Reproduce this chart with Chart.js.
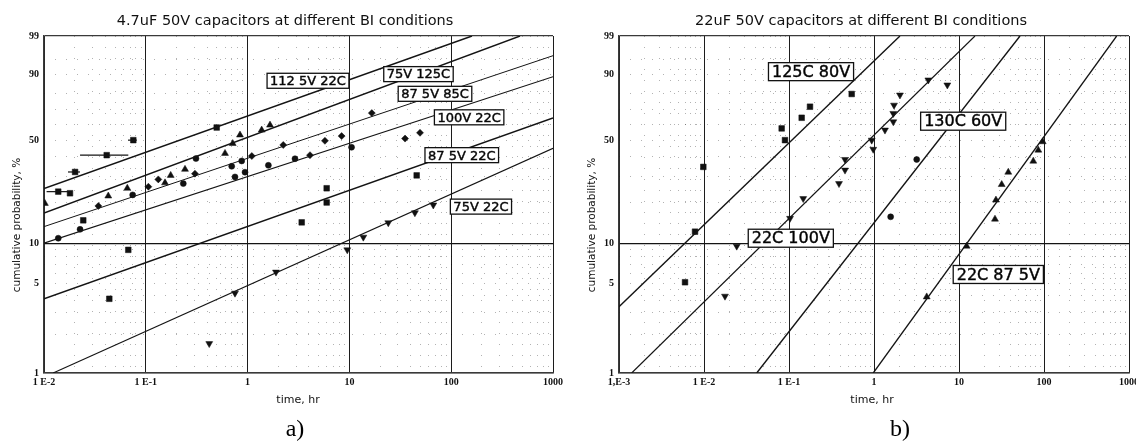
<!DOCTYPE html>
<html>
<head>
<meta charset="utf-8">
<script src="https://cdn.jsdelivr.net/npm/chart.js@4.4.1/dist/chart.umd.min.js"></script>
<style>
  html, body { margin: 0; padding: 0; background: #fff; overflow: hidden; }
  body { width: 1136px; height: 442px; position: relative; }
  .panel { position: absolute; top: 0; height: 442px; }
  #panelA { left: 0; width: 570px; }
  #panelB { left: 586px; width: 560px; }
</style>
</head>
<body>
<div class="panel" id="panelA"><canvas id="chartA"></canvas></div>
<div class="panel" id="panelB"><canvas id="chartB"></canvas></div>
<script>
// axis ticks (cumulative probability %, time hr)
const probTicks = [1, 5, 10, 50, 90, 99];
const probMinor = [2, 3, 4, 5, 6, 7, 8, 9, 20, 30, 40, 50, 60, 70, 80, 90, 95];
const minorSteps = [2, 3, 4, 5, 6, 7, 8, 9];
const timeTicksA = [0.01, 0.1, 1, 10, 100, 1000];
const timeLabelsA = ['1 E-2', '1 E-1', '1', '10', '100', '1000'];
const timeTicksB = [0.001, 0.01, 0.1, 1, 10, 100, 1000];
const timeLabelsB = ['1,E-3', '1 E-2', '1 E-1', '1', '10', '100', '1000'];

// a) 4.7uF 50V - fitted lines, [start, end]
const lineTimeA = [[0.01, 160], [0.01, 474], [0.01, 1000], [0.01, 1000], [0.01, 1000], [0.0123, 1000]];
const lineProbA = [[25, 99], [16.8, 99], [13.4, 96], [10.1, 88.9], [3.8, 64.5], [1.0, 45]];
const lineWidthA = [1.5, 1.4, 1.0, 1.1, 1.5, 1.1];

// a) label boxes
const labelTextA = ['112 5V 22C', '75V 125C', '87 5V 85C', '100V 22C', '87 5V 22C', '75V 22C'];
const labelTimeA = [3.92, 47.7, 69.3, 150, 127, 196];
const labelProbA = [87, 90, 80, 65, 41, 18.7];

// a) measured failures
const sqTimeA = [0.0138, 0.018, 0.0202, 0.0413, 0.0754, 0.497];
const sqProbA = [23.8, 23.2, 32.2, 41, 50, 58.2];
const barLoA = [0.0106, 0.0172, 0.0226, 0.0668];
const barHiA = [0.018, 0.0226, 0.0673, 0.0816];
const barProbA = [23.8, 32.2, 41, 50];
const triTimeA = [0.0102, 0.0428, 0.0658, 0.1544, 0.1756, 0.2427, 0.6, 0.714, 0.842, 1.375, 1.66];
const triProbA = [19.7, 22.2, 25.1, 27.3, 30.6, 33.5, 42, 47.9, 53.3, 56.5, 59.8];
const diaTimeA = [0.0342, 0.106, 0.1327, 0.304, 1.1, 2.24, 4.1, 5.75, 8.39, 16.6, 35.2, 49.4];
const diaProbA = [18.9, 25.7, 28.8, 31.4, 40.5, 47, 41, 49.6, 52.6, 67.8, 51, 54.7];
const cirTimeA = [0.0138, 0.0226, 0.0743, 0.2335, 0.311, 0.698, 0.752, 0.875, 0.943, 1.6, 2.92, 10.5];
const cirProbA = [11.0, 12.8, 22.6, 27, 39.1, 35, 29.9, 37.8, 32.1, 35.5, 39, 45.6];
const boxTimeA = [0.0243, 0.0673, 0.0438, 3.4, 5.98, 5.98, 45.8];
const boxProbA = [14.9, 9, 3.8, 14.4, 20, 25.1, 30.6];
const invTimeA = [0.42, 0.752, 1.9, 9.53, 13.7, 24.1, 44.0, 66.7];
const invProbA = [1.7, 4.2, 6.1, 9, 11.2, 14.3, 16.9, 19.2];

// b) 22uF 50V - fitted lines
const lineTimeB = [[0.001, 2.02], [0.00141, 15.4], [0.0417, 52.2], [0.98, 716]];
const lineProbB = [[3.3, 99], [1.0, 99], [1.0, 99], [1.0, 99]];
const lineWidthB = [1.4, 1.2, 1.4, 1.3];

const labelTextB = ['125C 80V', '22C 100V', '130C 60V', '22C 87 5V'];
const labelTimeB = [0.1816, 0.105, 11.2, 29];
const labelProbB = [91, 11, 62.4, 5.85];

const sqTimeB = [0.00598, 0.00784, 0.00982, 0.082, 0.0897, 0.141, 0.1766, 0.5465];
const sqProbB = [5.1, 12.3, 34.7, 57.6, 50, 64.7, 72, 79.9];
const invTimeB = [0.01766, 0.02427, 0.1028, 0.147, 0.3875, 0.456, 0.456, 0.94, 0.98, 1.346, 1.687, 1.687, 1.72, 2.02, 4.36, 7.29];
const invProbB = [3.98, 9.6, 15.4, 21.3, 27, 33.1, 38.6, 50, 44.4, 56.5, 62, 67.6, 73, 79.3, 87.4, 84.9];
const cirTimeB = [1.57, 3.18];
const cirProbB = [15.8, 38.6];
const triTimeB = [4.17, 12.3, 26.5, 27.2, 31.8, 38, 74.8, 85.7, 96.6];
const triProbB = [3.93, 9.6, 15.2, 20.8, 26.6, 32.1, 37.7, 43.9, 49];

// Weibull probability transform
const weib = p => Math.log(-Math.log(1 - p / 100));
const pts = (ts, ps) => ts.map((t, i) => ({ x: t, y: weib(ps[i]) }));

function lineSet(ts, ps, w) {
    return { type: 'line', data: pts(ts, ps), borderColor: '#141414', borderWidth: w,
             pointRadius: 0, showLine: true, fill: false, tension: 0 };
}

function markSet(ts, ps, style, r, rot) {
    return { type: 'scatter', data: pts(ts, ps), pointStyle: style, pointRadius: r,
             rotation: rot || 0, backgroundColor: '#111', borderColor: '#111', borderWidth: 0.5 };
}

function minorTimes(lo, hi) {
    const out = [];
    for (let d = lo; d < hi * 0.999; d *= 10) {
        minorSteps.forEach(k => out.push(d * k));
    }
    return out;
}

function makeScales(tMin, tMax, tTicks, tLabels, yWidth) {
    const tickFont = { family: '"Liberation Serif", serif', size: 10, weight: 'bold' };
    return {
        x: {
            type: 'logarithmic', min: tMin, max: tMax,
            afterBuildTicks: s => { s.ticks = tTicks.map(v => ({ value: v })); },
            afterFit: s => { s.height = 69; },
            ticks: { autoSkip: false, maxRotation: 0, padding: 3, color: '#111', font: tickFont,
                     callback: (v, i) => tLabels[i] },
            grid: { color: '#1c1c1c', lineWidth: 1, drawTicks: false },
            border: { color: '#3a3a3a', width: 1.5 }
        },
        xMinor: {
            type: 'logarithmic', min: tMin, max: tMax, position: 'bottom',
            afterBuildTicks: s => { s.ticks = minorTimes(tMin, tMax).map(v => ({ value: v })); },
            afterFit: s => { s.height = 0; },
            ticks: { display: false },
            grid: { color: 'rgba(0,0,0,0.3)', lineWidth: 1, drawTicks: false },
            border: { display: false, dash: [1, 10] }
        },
        y: {
            type: 'linear', min: weib(1), max: weib(99),
            afterBuildTicks: s => { s.ticks = probTicks.map(p => ({ value: weib(p) })); },
            afterFit: s => { s.width = yWidth; },
            ticks: { autoSkip: false, padding: 5, color: '#111', font: tickFont,
                     callback: (v, i) => String(probTicks[i]) },
            grid: {
                drawTicks: false, lineWidth: 1.2,
                color: c => probTicks[c.index] === 10 ? '#141414'
                    : (c.index === 0 || c.index === probTicks.length - 1) ? '#3a3a3a' : 'rgba(0,0,0,0)'
            },
            border: { color: '#3a3a3a', width: 1.5 }
        },
        yMinor: {
            type: 'linear', min: weib(1), max: weib(99), position: 'left',
            afterBuildTicks: s => { s.ticks = probMinor.map(p => ({ value: weib(p) })); },
            afterFit: s => { s.width = 0; },
            ticks: { display: false },
            grid: { color: 'rgba(0,0,0,0.3)', lineWidth: 1, drawTicks: false },
            border: { display: false, dash: [1, 10] }
        }
    };
}

function makeDecor(d) {
    return {
        id: 'decor',
        afterDatasetsDraw(chart) {
            const { ctx, scales: { x, y } } = chart;
            ctx.save();
            ctx.font = d.boxFont + 'px "DejaVu Sans", Verdana, sans-serif';
            ctx.textAlign = 'center';
            ctx.textBaseline = 'middle';
            d.labelText.forEach((txt, i) => {
                const cx = x.getPixelForValue(d.labelTime[i]);
                const cy = y.getPixelForValue(weib(d.labelProb[i]));
                const w = ctx.measureText(txt).width + d.boxPad * 2;
                const h = d.boxH;
                ctx.fillStyle = '#fff';
                ctx.fillRect(cx - w / 2, cy - h / 2, w, h);
                ctx.lineWidth = 1.3;
                ctx.strokeStyle = '#111';
                ctx.strokeRect(cx - w / 2, cy - h / 2, w, h);
                // scanned text looks slightly heavy
                ctx.lineWidth = 0.45;
                ctx.fillStyle = '#000';
                ctx.fillText(txt, cx, cy + 1);
                ctx.strokeText(txt, cx, cy + 1);
            });
            ctx.restore();
        },
        afterDraw(chart) {
            const ctx = chart.ctx;
            ctx.save();
            ctx.fillStyle = '#111';
            ctx.textAlign = 'center';
            ctx.textBaseline = 'alphabetic';
            ctx.font = '14.5px "DejaVu Sans", Verdana, sans-serif';
            ctx.fillText(d.title, d.titleX, 25);
            ctx.font = '11px "DejaVu Sans", Verdana, sans-serif';
            ctx.fillText('time, hr', d.xTitleX, 403);
            ctx.font = '24px "Liberation Serif", "Times New Roman", serif';
            ctx.fillStyle = '#000';
            ctx.fillText(d.letter, d.letterX, 436);
            ctx.fillStyle = '#111';
            ctx.translate(d.yTitleX, 225);
            ctx.rotate(-Math.PI / 2);
            ctx.textBaseline = 'middle';
            ctx.font = '10.5px "DejaVu Sans", Verdana, sans-serif';
            ctx.fillText('cumulative probability, %', 0, 0);
            ctx.restore();
        }
    };
}

function buildChart(id, datasets, scales, padding, decor) {
    return new Chart(document.getElementById(id), {
        type: 'scatter',
        data: { datasets: datasets },
        options: {
            responsive: true,
            maintainAspectRatio: false,
            animation: false,
            devicePixelRatio: 1,
            layout: { padding: padding },
            scales: scales,
            plugins: { legend: { display: false }, tooltip: { enabled: false } }
        },
        plugins: [decor]
    });
}

// panel a)
const setsA = [];
lineTimeA.forEach((t, i) => setsA.push(lineSet(t, lineProbA[i], lineWidthA[i])));
barLoA.forEach((lo, i) => setsA.push(lineSet([lo, barHiA[i]], [barProbA[i], barProbA[i]], 1.2)));
setsA.push(markSet(sqTimeA, sqProbA, 'rect', 4));
setsA.push(markSet(triTimeA, triProbA, 'triangle', 4));
setsA.push(markSet(diaTimeA, diaProbA, 'rectRot', 3.5));
setsA.push(markSet(cirTimeA, cirProbA, 'circle', 3));
setsA.push(markSet(boxTimeA, boxProbA, 'rect', 4));
setsA.push(markSet(invTimeA, invProbA, 'triangle', 4, 180));

buildChart('chartA', setsA,
    makeScales(0.01, 1000, timeTicksA, timeLabelsA, 44),
    { left: 0, top: 36, right: 17, bottom: 0 },
    makeDecor({ title: '4.7uF 50V capacitors at different BI conditions', titleX: 285,
                xTitleX: 298, yTitleX: 17, letter: 'a)', letterX: 295,
                labelText: labelTextA, labelTime: labelTimeA, labelProb: labelProbA,
                boxFont: 13, boxPad: 3, boxH: 15 }));

// panel b)
const setsB = [];
lineTimeB.forEach((t, i) => setsB.push(lineSet(t, lineProbB[i], lineWidthB[i])));
setsB.push(markSet(sqTimeB, sqProbB, 'rect', 4));
setsB.push(markSet(invTimeB, invProbB, 'triangle', 4, 180));
setsB.push(markSet(cirTimeB, cirProbB, 'circle', 3));
setsB.push(markSet(triTimeB, triProbB, 'triangle', 4));

buildChart('chartB', setsB,
    makeScales(0.001, 1000, timeTicksB, timeLabelsB, 33),
    { left: 0, top: 36, right: 17, bottom: 0 },
    makeDecor({ title: '22uF 50V capacitors at different BI conditions', titleX: 275,
                xTitleX: 286, yTitleX: 6, letter: 'b)', letterX: 314,
                labelText: labelTextB, labelTime: labelTimeB, labelProb: labelProbB,
                boxFont: 16, boxPad: 3.5, boxH: 18 }));
</script>
</body>
</html>
